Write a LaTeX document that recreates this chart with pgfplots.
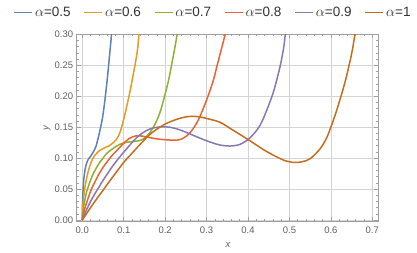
\documentclass[border=0pt]{standalone}
\usepackage{fontspec}
\setmainfont{Liberation Sans}
\usepackage{pgfplots}
\pgfplotsset{compat=1.18}
\definecolor{c1}{HTML}{5E81B5}
\definecolor{c2}{HTML}{E19C24}
\definecolor{c3}{HTML}{8FB032}
\definecolor{c4}{HTML}{EB6235}
\definecolor{c5}{HTML}{8778B3}
\definecolor{c6}{HTML}{C56E1A}
\definecolor{framec}{HTML}{A0A0A0}
\definecolor{gridc}{HTML}{D4D4D4}
\definecolor{labc}{HTML}{606060}
\pgfplotsset{crv/.style={line width=1.5pt, smooth, tension=0.5, mark=none}}
\begin{document}
\begin{tikzpicture}
\begin{axis}[
  scale only axis, width=301.6pt, height=186.7pt,
  xmin=-0.0135, xmax=0.7145, ymin=-0.0016, ymax=0.3,
  xtick={0,0.1,0.2,0.3,0.4,0.5,0.6,0.7},
  ytick={0,0.05,0.1,0.15,0.2,0.25,0.3},
  minor x tick num=4, minor y tick num=4,
  tick align=inside, major tick length=4pt, minor tick length=2pt,
  grid=major, major grid style={color=gridc, line width=0.6pt},
  axis line style={color=framec, line width=0.6pt},
  every tick/.style={color=framec, line width=0.5pt},
  tick label style={font=\fontsize{9.5}{11}\selectfont, color=labc},
  /pgf/number format/assume math mode=true,
  xticklabel style={yshift=-2pt, /pgf/number format/.cd, fixed, fixed zerofill, precision=1},
  yticklabel style={/pgf/number format/.cd, fixed, fixed zerofill, precision=2},
  xlabel={\textit{x}}, ylabel={\textit{y}},
  label style={font=\fontsize{9.5}{11}\selectfont, color=labc},
  xlabel style={at={(axis description cs:0.502,-0.1285)}, anchor=center},
  ylabel style={at={(axis description cs:-0.0985,0.498)}, anchor=center},
  legend columns=6,
  legend style={draw=none, fill=none, at={(0.452,1.118)}, anchor=center,
    font=\fontsize{13.5}{15}\selectfont, text=black!80,
    /tikz/every even column/.append style={column sep=11pt}},
  legend image code/.code={\draw[#1, line width=1.5pt, sharp plot] (0pt,0pt) -- (18pt,0pt);},
  clip=true,
]
\coordinate (bl) at (rel axis cs:0,0);
\addplot[crv, c1] coordinates {(0,0) (0.0003,0.02) (0.001,0.036) (0.002,0.05) (0.0035,0.065) (0.0055,0.076) (0.008,0.086) (0.011,0.093) (0.0145,0.098) (0.019,0.102) (0.025,0.108) (0.033,0.119) (0.041,0.140) (0.049,0.166) (0.055,0.196) (0.060,0.226) (0.064,0.253) (0.0685,0.285) (0.0705,0.30) (0.072,0.315)};
\addlegendentry{$\alpha$=0.5}
\addplot[crv, c2] coordinates {(0,0) (0.0005,0.012) (0.0015,0.024) (0.003,0.034) (0.006,0.051) (0.01,0.066) (0.0165,0.084) (0.023,0.096) (0.0286,0.103) (0.035,0.108) (0.041,0.112) (0.055,0.117) (0.065,0.120) (0.073,0.124) (0.082,0.130) (0.0895,0.139) (0.097,0.155) (0.105,0.177) (0.113,0.201) (0.121,0.228) (0.129,0.257) (0.134,0.279) (0.1365,0.30) (0.139,0.315)};
\addlegendentry{$\alpha$=0.6}
\addplot[crv, c3] coordinates {(0,0) (0.001,0.009) (0.002,0.015) (0.005,0.028) (0.01,0.044) (0.017,0.059) (0.0246,0.072) (0.033,0.083) (0.041,0.092) (0.049,0.099) (0.057,0.106) (0.065,0.111) (0.073,0.115) (0.082,0.119) (0.09,0.122) (0.1,0.1245) (0.112,0.126) (0.124,0.127) (0.136,0.128) (0.148,0.131) (0.158,0.137) (0.166,0.144) (0.174,0.153) (0.182,0.164) (0.19,0.179) (0.199,0.201) (0.208,0.225) (0.216,0.252) (0.223,0.277) (0.229,0.30) (0.231,0.31)};
\addlegendentry{$\alpha$=0.7}
\addplot[crv, c4] coordinates {(0,0) (0.001,0.0045) (0.003,0.0105) (0.006,0.018) (0.01,0.027) (0.016,0.039) (0.022,0.05) (0.03,0.061) (0.04,0.074) (0.05,0.085) (0.06,0.094) (0.07,0.103) (0.08,0.110) (0.09,0.117) (0.1,0.124) (0.114,0.132) (0.13,0.136) (0.145,0.1355) (0.16,0.1335) (0.18,0.131) (0.2,0.1297) (0.215,0.129) (0.228,0.129) (0.24,0.131) (0.25,0.135) (0.26,0.141) (0.268,0.148) (0.278,0.159) (0.287,0.172) (0.296,0.187) (0.305,0.203) (0.316,0.225) (0.326,0.251) (0.336,0.277) (0.345,0.30) (0.349,0.312)};
\addlegendentry{$\alpha$=0.8}
\addplot[crv, c5] coordinates {(0,0) (0.002,0.004) (0.005,0.009) (0.01,0.016) (0.02,0.030) (0.03,0.042) (0.04,0.053) (0.05,0.064) (0.06,0.074) (0.07,0.084) (0.08,0.093) (0.09,0.1015) (0.1,0.1095) (0.114,0.1205) (0.126,0.1295) (0.138,0.137) (0.155,0.1445) (0.17,0.1485) (0.19,0.1505) (0.21,0.15) (0.234,0.146) (0.267,0.137) (0.3,0.128) (0.33,0.1215) (0.356,0.1195) (0.38,0.122) (0.4,0.130) (0.415,0.140) (0.43,0.154) (0.445,0.177) (0.46,0.204) (0.47,0.228) (0.479,0.253) (0.486,0.278) (0.49,0.30) (0.492,0.31)};
\addlegendentry{$\alpha$=0.9}
\addplot[crv, c6] coordinates {(0,0) (0.025,0.025) (0.05,0.048) (0.075,0.071) (0.1,0.093) (0.12,0.108) (0.138,0.121) (0.155,0.133) (0.17,0.142) (0.185,0.149) (0.2,0.155) (0.217,0.160) (0.234,0.164) (0.25,0.1665) (0.267,0.1675) (0.284,0.1665) (0.3,0.164) (0.332,0.158) (0.364,0.145) (0.4,0.130) (0.444,0.111) (0.485,0.097) (0.51,0.093) (0.53,0.094) (0.55,0.099) (0.574,0.115) (0.59,0.133) (0.6,0.150) (0.612,0.173) (0.624,0.199) (0.635,0.225) (0.645,0.253) (0.652,0.275) (0.658,0.30) (0.661,0.312)};
\addlegendentry{$\alpha$=1}
\end{axis}
\pgfresetboundingbox
\path (bl) ++(-76.7pt,-32pt) rectangle ++(417pt,253pt);
\end{tikzpicture}
\end{document}
